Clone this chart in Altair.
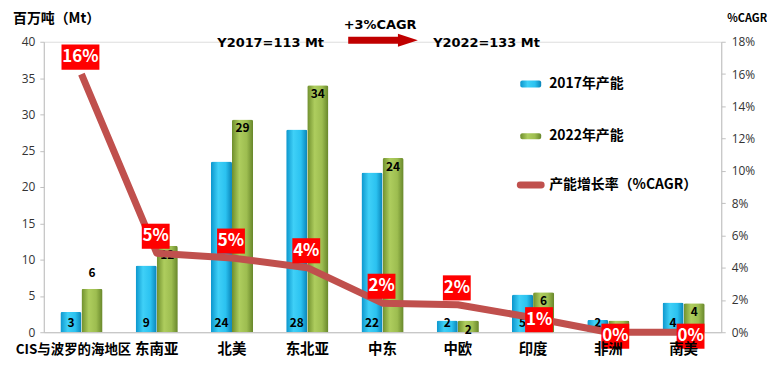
import altair as alt
import pandas as pd

categories = ["CIS与波罗的海地区", "东南亚", "北美", "东北亚", "中东", "中欧", "印度", "非洲", "南美"]
cap2017 = [2.8, 9.2, 23.5, 27.9, 22.0, 1.6, 5.2, 1.7, 4.1]
cap2022 = [6.0, 11.9, 29.3, 34.0, 24.0, 1.6, 5.5, 1.6, 4.0]
label2017 = ["3", "9", "24", "28", "22", "2", "5", "2", "4"]
label2022 = ["6", "12", "29", "34", "24", "2", "6", "2", "4"]
cagr = [0.160, 0.049, 0.046, 0.040, 0.018, 0.017, 0.009, 0.0, 0.0]
cagr_labels = ["16%", "5%", "5%", "4%", "2%", "2%", "1%", "0%", "0%"]
series_names = ["2017年产能", "2022年产能"]
legend_line = "产能增长率（%CAGR）"

FONT = "Noto Sans CJK SC"

rows = []
for i, c in enumerate(categories):
    rows.append(dict(cat=c, series=series_names[0], value=cap2017[i], label=label2017[i], zero=0))
    rows.append(dict(cat=c, series=series_names[1], value=cap2022[i], label=label2022[i], zero=0))
bars_df = pd.DataFrame(rows)
line_df = pd.DataFrame(dict(cat=categories, cagr=cagr, label=cagr_labels))
line_df["n"] = line_df["label"].str.len()
cat_df = pd.DataFrame(dict(cat=categories))

blue_grad = alt.Gradient(gradient="linear", x1=0, x2=1, y1=0, y2=0, stops=[
    alt.GradientStop(color="#0B95CC", offset=0),
    alt.GradientStop(color="#3FD0F7", offset=0.35),
    alt.GradientStop(color="#2BC2F0", offset=0.7),
    alt.GradientStop(color="#0A84B8", offset=1)])
green_grad = alt.Gradient(gradient="linear", x1=0, x2=1, y1=0, y2=0, stops=[
    alt.GradientStop(color="#6E8E2C", offset=0),
    alt.GradientStop(color="#AECD5E", offset=0.35),
    alt.GradientStop(color="#9DBD50", offset=0.7),
    alt.GradientStop(color="#67862A", offset=1)])

x_axis = alt.Axis(labels=False, ticks=False, domainColor="#BFBFBF", title=None)
x_enc = alt.X("cat:N", sort=categories, title=None,
              scale=alt.Scale(paddingInner=0.44, paddingOuter=0.22), axis=x_axis)
xo_enc = alt.XOffset("series:N", sort=series_names, scale=alt.Scale(paddingInner=0))

left_axis = alt.Axis(values=list(range(0, 41, 5)), grid=False, domainColor="#BFBFBF",
                     tickColor="#BFBFBF", tickSize=4, labelFontSize=12, labelFont="Open Sans",
                     labelColor="#333333", labelPadding=5, title=None)
ysc_left = alt.Scale(domain=[0, 40])
y_left = alt.Y("value:Q", scale=ysc_left, title=None, axis=left_axis)
y_zero = alt.Y("zero:Q", scale=ysc_left, title=None, axis=left_axis)

base_bars = alt.Chart(bars_df)
f17 = alt.datum.series == series_names[0]
f22 = alt.datum.series == series_names[1]
bar17 = base_bars.transform_filter(f17).mark_bar(
    color=blue_grad, cornerRadiusTopLeft=2, cornerRadiusTopRight=2
).encode(x=x_enc, xOffset=xo_enc, y=y_left)
bar22 = base_bars.transform_filter(f22).mark_bar(
    color=green_grad, cornerRadiusTopLeft=2, cornerRadiusTopRight=2
).encode(x=x_enc, xOffset=xo_enc, y=y_left)
txt17 = base_bars.transform_filter(f17).mark_text(
    font=FONT, fontSize=12, fontWeight="bold", color="#000000", baseline="bottom", dy=-2
).encode(x=x_enc, xOffset=xo_enc, y=y_zero, text="label:N")
txt22 = base_bars.transform_filter(f22).mark_text(
    font=FONT, fontSize=12, fontWeight="bold", color="#000000", baseline="top",
    dy={"expr": "datum.cat == '%s' ? -21 : 4" % categories[0]}
).encode(x=x_enc, xOffset=xo_enc, y=y_left, text="label:N")

# category labels under the axis
xlabels = alt.Chart(cat_df).mark_text(
    font=FONT, fontWeight="bold", color="#000000", baseline="middle",
    fontSize={"expr": "datum.cat == '%s' ? 13.5 : 14.5" % categories[0]},
    dx={"expr": "datum.cat == '%s' ? -8 : 0" % categories[0]}
).encode(x=x_enc, y=alt.value(309.5), text="cat:N")

left = alt.layer(bar17, bar22, txt17, txt22)

right_axis = alt.Axis(orient="right", format=".0%",
                      values=[0, 0.02, 0.04, 0.06, 0.08, 0.10, 0.12, 0.14, 0.16, 0.18],
                      grid=False, domainColor="#BFBFBF", tickColor="#BFBFBF",
                      tickSize=4, labelFontSize=12, labelFont="Open Sans", labelColor="#333333",
                      labelPadding=6, title=None)
y_right = alt.Y("cagr:Q", scale=alt.Scale(domain=[0, 0.18]), title=None, axis=right_axis)

line = alt.Chart(line_df).mark_line(color="#C0504D", strokeWidth=7, strokeJoin="round").encode(
    x=x_enc, y=y_right)

box_shapes = ["M-1,-0.9L1,-0.9L1,0.9L-1,0.9Z", "M-1.36,-0.9L1.36,-0.9L1.36,0.9L-1.36,0.9Z"]
below = ["印度", "非洲", "南美"]


def label_layers(sel, yoff, xoff):
    b = alt.Chart(line_df).transform_filter(sel)
    boxes = b.mark_point(filled=True, color="#FF0000", opacity=1, size=784,
                         yOffset=yoff, xOffset=xoff, strokeWidth=0).encode(
        x=x_enc, y=y_right,
        shape=alt.Shape("n:O", scale=alt.Scale(domain=[2, 3], range=box_shapes), legend=None))
    texts = b.mark_text(font=FONT, fontSize=17, fontWeight="bold", color="white",
                        dy=yoff, dx=xoff).encode(x=x_enc, y=y_right, text="label:N")
    return [boxes, texts]


above_layers = label_layers(~alt.FieldOneOfPredicate(field="cat", oneOf=below), -17, -1)
india_layers = label_layers(alt.datum.cat == "印度", 2, 6)
low_layers = label_layers(alt.FieldOneOfPredicate(field="cat", oneOf=["非洲", "南美"]), 4, 7)

right = alt.layer(line, *above_layers, *india_layers, *low_layers)

one = alt.Data(values=[{}])


def txt(s, x, y, size=13, align="center", font="DejaVu Sans", color="#000000"):
    return alt.Chart(one).mark_text(text=s, font=font, fontSize=size, fontWeight="bold",
                                    align=align, baseline="middle", color=color).encode(
        x=alt.value(x), y=alt.value(y))


annots = [
    xlabels,
    txt("百万吨（Mt）", -31, -23, size=14, align="left", font=FONT),
    txt("%CAGR", 687, -23, size=11, align="left", font=FONT),
    txt("Y2017=113 Mt", 228, 1, size=13),
    txt("+3%CAGR", 338, -17, size=13),
    txt("Y2022=133 Mt", 445, 1, size=13),
    alt.Chart(one).mark_rule(color="#C00000", strokeWidth=7).encode(
        x=alt.value(306), x2=alt.value(358), y=alt.value(-1.5)),
    alt.Chart(one).mark_point(shape="M-1,-0.65L1,0L-1,0.65Z", filled=True, color="#C00000",
                              opacity=1, size=400, strokeWidth=0).encode(
        x=alt.value(366), y=alt.value(-1.5)),
    # legend
    alt.Chart(one).mark_rect(color=blue_grad, cornerRadius=2).encode(
        x=alt.value(479), x2=alt.value(500), y=alt.value(39), y2=alt.value(46)),
    txt(series_names[0], 508, 42, size=14, align="left", font=FONT),
    alt.Chart(one).mark_rect(color=green_grad, cornerRadius=2).encode(
        x=alt.value(479), x2=alt.value(500), y=alt.value(92), y2=alt.value(98)),
    txt(series_names[1], 508, 95, size=14, align="left", font=FONT),
    alt.Chart(one).mark_rule(color="#C0504D", strokeWidth=7, strokeCap="round").encode(
        x=alt.value(479), x2=alt.value(500), y=alt.value(144)),
    txt(legend_line, 508, 144, size=14, align="left", font=FONT),
]

chart = alt.layer(left, right, *annots).resolve_scale(y="independent").properties(
    width=681, height=292,
    padding={"left": 36, "top": 33, "right": 46, "bottom": 30},
    autosize=alt.AutoSizeParams(type="none"),
).configure_view(stroke=None).configure(font=FONT, background="white")

chart.save("out.html", embed_options={"renderer": "svg", "actions": False})
